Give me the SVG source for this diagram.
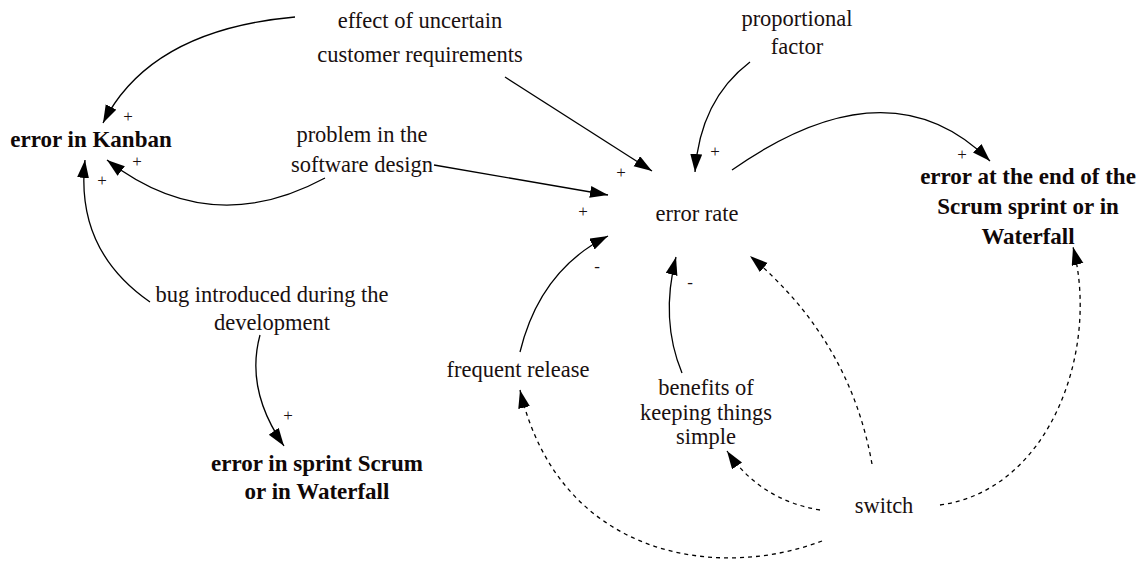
<svg xmlns="http://www.w3.org/2000/svg" width="1145" height="561" viewBox="0 0 1145 561" font-family="'Liberation Serif','Times New Roman','DejaVu Serif',serif">
<style>
text{font-family:"Liberation Serif","Times New Roman","DejaVu Serif",serif;font-size:22.5px;fill:#1a1010;text-anchor:middle}
.b{font-weight:bold;font-size:23px;fill:#100808}
.s{font-size:17px}
.c path{fill:none;stroke:#000;stroke-width:1.3;marker-end:url(#ah)}
.c .d{stroke-dasharray:4 4}
</style>
<defs>
<marker id="ah" markerUnits="userSpaceOnUse" markerWidth="20" markerHeight="14" refX="18" refY="6" orient="auto">
<path d="M0,0 L18,6 L0,12 Z" fill="#000"/>
</marker>
</defs>
<rect width="1145" height="561" fill="#fff"/>
<g class="c" id="connectors">
<path d="M295,17 Q150,30 103,123"/>
<path d="M505,77 L652,171"/>
<path d="M434,165 L608,195"/>
<path d="M325,178 Q210,240 107,160"/>
<path d="M150,302 Q75,250 85,160"/>
<path d="M260,335 Q245,390 284,446"/>
<path d="M750,62 Q700,100 695,172"/>
<path d="M732,170 Q889,60 990,161"/>
<path d="M520,352 Q540,270 608,236"/>
<path d="M682,373 Q660,320 676,257"/>
<path class="d" d="M872,464 Q850,340 750,256"/>
<path class="d" d="M820,510 Q760,500 727,451"/>
<path class="d" d="M822,541 C720,580 560,560 520,390"/>
<path class="d" d="M940,505 C1050,490 1100,350 1073,247"/>
</g>
<g id="signs">
<text x="128" y="122" class="s">+</text>
<text x="137" y="167" class="s">+</text>
<text x="102" y="186" class="s">+</text>
<text x="621" y="178" class="s">+</text>
<text x="583" y="217" class="s">+</text>
<text x="715" y="157" class="s">+</text>
<text x="962" y="160" class="s">+</text>
<text x="288" y="421" class="s">+</text>
<text x="597" y="272" class="s">-</text>
<text x="690" y="288" class="s">-</text>
</g>
<g id="n-effect"><text x="420" y="28">effect of uncertain</text><text x="420" y="62">customer requirements</text></g>
<g id="n-kanban"><text x="91" y="147" class="b">error in Kanban</text></g>
<g id="n-problem"><text x="362" y="142">problem in the</text><text x="362" y="172">software design</text></g>
<g id="n-proportional"><text x="797" y="26">proportional</text><text x="797" y="54">factor</text></g>
<g id="n-errorrate"><text x="697" y="221">error rate</text></g>
<g id="n-end"><text x="1028" y="184" class="b">error at the end of the</text><text x="1028" y="214" class="b">Scrum sprint or in</text><text x="1028" y="244" class="b">Waterfall</text></g>
<g id="n-bug"><text x="272" y="302">bug introduced during the</text><text x="272" y="330">development</text></g>
<g id="n-sprint"><text x="317" y="471" class="b">error in sprint Scrum</text><text x="317" y="499" class="b">or in Waterfall</text></g>
<g id="n-frequent"><text x="518" y="377">frequent release</text></g>
<g id="n-benefits"><text x="706" y="395">benefits of</text><text x="706" y="420">keeping things</text><text x="706" y="444">simple</text></g>
<g id="n-switch"><text x="884" y="513">switch</text></g>
</svg>
